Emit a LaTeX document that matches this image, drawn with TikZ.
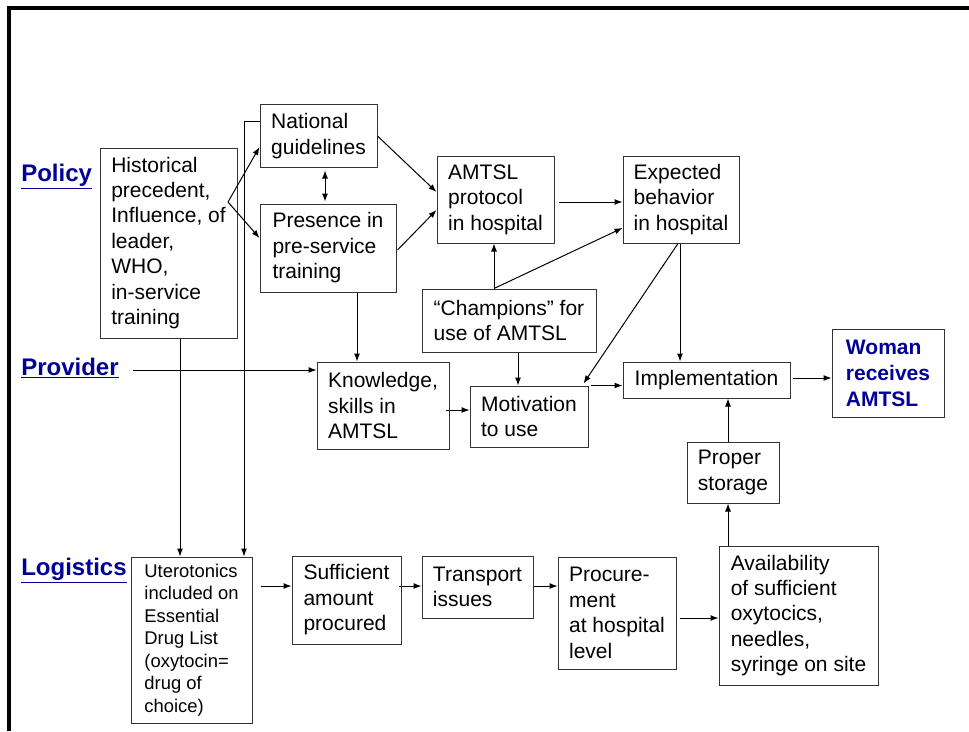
\documentclass[tikz,border=0pt]{standalone}
\usepackage{fontspec}
\setmainfont{Liberation Sans}
\usepackage{tikz}
\usetikzlibrary{arrows.meta,calc}
\definecolor{lblblue}{RGB}{0,0,153}

\begin{document}
\begin{tikzpicture}[x=0.75pt,y=-0.75pt,
    box/.style={draw=black!80,line width=0.75pt,align=left,inner xsep=5pt,inner ysep=2pt,
        font=\fontsize{15.75}{19.1}\selectfont},
    smallbox/.style={box,font=\fontsize{13.8}{16.9}\selectfont},
    lbl/.style={anchor=base west,inner sep=0pt,text=lblblue,font=\bfseries\fontsize{18}{21}\selectfont},
    arr/.style={line width=0.75pt,-{Latex[length=6pt,width=4.5pt]}},
    arrboth/.style={line width=0.75pt,{Latex[length=6pt,width=4.5pt]}-{Latex[length=6pt,width=4.5pt]}}]
                \useasboundingbox (0,0) rectangle (969,731);
                \draw[line width=3pt,miter limit=10] (9,731) -- (9,8) -- (969,8);

                \node[lbl] (pol) at (21,181) {\underline{Policy}};
                \node[lbl] (prov) at (21,375) {\underline{Provider}};
                \node[lbl] (logi) at (21,575) {\underline{Logistics}};

                \node[box,minimum width=102.75pt,minimum height=142.5pt] (hist) at (168.5,243) {Historical\\precedent,\\Influence, of\\leader,\\WHO,\\in-service\\training};
                \node[box,minimum width=87.75pt,minimum height=46.5pt] (natl) at (318.5,136) {National\\guidelines};
                \node[box,minimum width=102pt,minimum height=66pt] (pres) at (328,248) {Presence in\\pre-service\\training};
                \node[box,minimum width=87.75pt,minimum height=65.25pt] (prot) at (495.5,199.5) {AMTSL\\protocol\\in hospital};
                \node[box,minimum width=87pt,minimum height=65.25pt] (expb) at (681,199.5) {Expected\\behavior\\in hospital};
                \node[box,minimum width=130.5pt,minimum height=47.25pt] (champ) at (509,320.5) {``Champions'' for\\use of AMTSL};
                \node[box,minimum width=99pt,minimum height=65.25pt] (know) at (383,405.5) {Knowledge,\\skills in\\AMTSL};
                \node[box,minimum width=88.5pt,minimum height=45.75pt] (motiv) at (529,416.5) {Motivation\\to use};
                \node[box,minimum width=125.25pt,minimum height=27pt] (impl) at (706.5,380) {Implementation};
                \node[box,minimum width=84pt,minimum height=66pt,text=lblblue,
                    font=\bfseries\fontsize{15.75}{19.5}\selectfont] (woman) at (888,373) {Woman\\receives\\AMTSL};
                \node[box,minimum width=69pt,minimum height=45.75pt] (stor) at (733,472.5) {Proper\\storage};
                \node[smallbox,minimum width=90.75pt,minimum height=124.5pt] (utero) at (191.5,640) {Uterotonics\\included on\\Essential\\Drug List\\(oxytocin=\\drug of\\choice)};
                \node[box,minimum width=81.75pt,minimum height=66pt] (suff) at (346.5,600) {Sufficient\\amount\\procured};
                \node[box,minimum width=83.25pt,minimum height=46.5pt] (trans) at (477.5,587) {Transport\\issues};
                \node[box,minimum width=88.5pt,minimum height=84pt] (procu) at (617,613) {Procure-\\ment\\at hospital\\level};
                \node[box,minimum width=119.25pt,minimum height=104.25pt] (avail) at (798.5,615.5) {Availability\\of sufficient\\oxytocics,\\needles,\\syringe on site};

                \coordinate (fork) at (228,202);
                \draw[arr] (fork) -- ($(natl.west)+(0,11)$);
                \draw[arr] (fork) -- ($(pres.west)+(0,-10)$);
                \draw[arrboth] ($(natl.south)+(6.5,3)$) -- ($(pres.north)+(-3,-2)$);
                \draw[arr] (natl.east) -- ($(prot.west)+(0,-7.5)$);
                \draw[arr] ($(pres.east)+(1,2)$) -- ($(prot.west)+(0,10.5)$);
                \draw[arr] ($(prot.east)+(4,2.5)$) -- ($(expb.west)+(0,2.5)$);

                \coordinate (chtop) at ($(champ.north)+(-15,0)$);
                \draw[arr] (chtop) -- (chtop |- prot.south);
                \draw[arr] (chtop) -- ($(expb.west)+(0,28.5)$);
                \coordinate (chbot) at ($(champ.south)+(9,0)$);
                \draw[arr] (chbot) -- (chbot |- motiv.north);

                \draw[arr] ($(expb.south)+(-3,0)$) -- ($(motiv.north east)+(-5,-2)$);
                \draw[arr] ($(expb.south)+(-1,0)$) -- ($(expb.south |- impl.north)+(-1,0)$);

                \coordinate (pb) at ($(pres.south)+(29,0)$);
                \draw[arr] (pb) -- (pb |- know.north);
                \coordinate (pv) at ($(prov.base east)+(14,-5)$);
                \draw[arr] (pv) -- (pv -| know.west);
                \coordinate (kw) at ($(know.east)+(-4,4.5)$);
                \draw[arr] (kw) -- (kw -| motiv.west);
                \coordinate (mv) at ($(motiv.north east)+(2,0)$);
                \draw[arr] (mv) -- (mv -| impl.west);
                \coordinate (iw) at ($(impl.east)+(2,-2)$);
                \draw[arr] (iw) -- (iw -| woman.west);

                \coordinate (sx) at ($(stor.north)+(-5,0)$);
                \draw[arr] (sx) -- (sx |- impl.south);
                \draw[arr] (sx |- avail.north) -- (sx |- stor.south);

                \coordinate (hb) at ($(hist.south)+(11.5,0)$);
                \draw[arr] (hb) -- (hb |- utero.north);
                \draw[arr] ($(natl.west)+(0,-14)$) -| ($(utero.north)+(52.5,0)$);

                \coordinate (ue) at ($(utero.east)+(8,-54)$);
                \draw[arr] (ue) -- (ue -| suff.west);
                \coordinate (se) at ($(suff.east)+(-3,-14)$);
                \draw[arr] (se) -- (se -| trans.west);
                \coordinate (te) at ($(trans.east)+(0,-1)$);
                \draw[arr] (te) -- (te -| procu.west);
                \coordinate (pe) at ($(procu.east)+(3,5)$);
                \draw[arr] (pe) -- (pe -| avail.west);
\end{tikzpicture}
\end{document}
